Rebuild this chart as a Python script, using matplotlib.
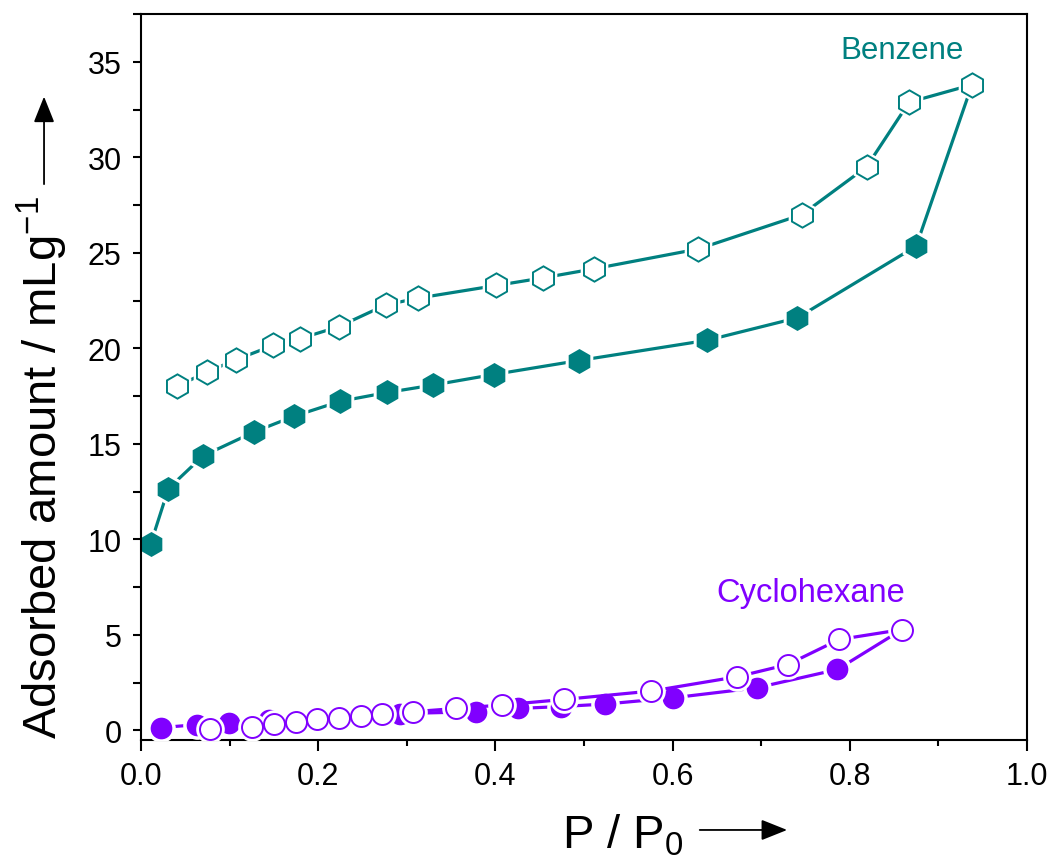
import matplotlib
matplotlib.use("Agg")
import matplotlib.pyplot as plt
from matplotlib.ticker import MultipleLocator

plt.rcParams["font.family"] = ["Liberation Sans", "DejaVu Sans"]
plt.rcParams["mathtext.fontset"] = "custom"
plt.rcParams["mathtext.rm"] = "Liberation Sans"
plt.rcParams["mathtext.it"] = "Liberation Sans:italic"

TEAL = "#008080"
VIOLET = "#8000FF"

# benzene: adsorption (filled) and desorption (open, from the top down)
benz_ads_x = [0.011, 0.031, 0.070, 0.128, 0.173, 0.225, 0.278, 0.330,
              0.398, 0.494, 0.639, 0.741, 0.875]
benz_ads_y = [9.77, 12.66, 14.37, 15.63, 16.45, 17.23, 17.69, 18.08,
              18.63, 19.36, 20.42, 21.60, 25.35]
benz_des_x = [0.938, 0.867, 0.819, 0.746, 0.629, 0.511, 0.454, 0.401,
              0.313, 0.276, 0.223, 0.179, 0.149, 0.107, 0.075, 0.041]
benz_des_y = [33.80, 32.88, 29.50, 27.00, 25.20, 24.16, 23.69, 23.29,
              22.63, 22.27, 21.13, 20.50, 20.15, 19.40, 18.77, 18.02]

# cyclohexane
cyc_ads_x = [0.023, 0.063, 0.099, 0.144, 0.195, 0.245, 0.292, 0.378,
             0.426, 0.474, 0.524, 0.601, 0.695, 0.786]
cyc_ads_y = [0.15, 0.30, 0.38, 0.55, 0.62, 0.72, 0.88, 0.98,
             1.15, 1.25, 1.38, 1.71, 2.23, 3.19]
cyc_des_x = [0.859, 0.788, 0.730, 0.673, 0.576, 0.477, 0.407, 0.356,
             0.307, 0.272, 0.248, 0.223, 0.199, 0.175, 0.150, 0.125, 0.078]
cyc_des_y = [5.28, 4.76, 3.45, 2.81, 2.06, 1.62, 1.33, 1.15,
             0.98, 0.84, 0.75, 0.66, 0.58, 0.44, 0.35, 0.18, 0.08]

fig = plt.figure(figsize=(10.56, 8.62), dpi=100)
ax = fig.add_axes([0.1335, 0.1404, 0.8390, 0.8422])


def branch(x, y, color, marker, ms, filled, z, close_x=None, close_y=None):
    lx, ly = list(x), list(y)
    if close_x is not None:
        lx.append(close_x)
        ly.append(close_y)
    ax.plot(lx, ly, color=color, lw=2.3, zorder=z, solid_capstyle="butt")
    # white halo so the line stops short of each symbol
    ax.plot(x, y, ls="none", marker=marker, ms=ms + 5, mfc="white",
            mec="white", mew=0, zorder=z + 0.1)
    if filled:
        ax.plot(x, y, ls="none", marker=marker, ms=ms, mfc=color,
                mec=color, mew=0, zorder=z + 0.2)
    else:
        ax.plot(x, y, ls="none", marker=marker, ms=ms - 0.5, mfc="white",
                mec=color, mew=1.4, zorder=z + 0.2)


branch(benz_ads_x, benz_ads_y, TEAL, "h", 18, True, 2,
       benz_des_x[0], benz_des_y[0])
branch(benz_des_x, benz_des_y, TEAL, "h", 18, False, 3)
branch(cyc_ads_x, cyc_ads_y, VIOLET, "o", 15.6, True, 4,
       cyc_des_x[0], cyc_des_y[0])
branch(cyc_des_x, cyc_des_y, VIOLET, "o", 15.6, False, 5)

ax.text(0.859, 35.6, "Benzene", color=TEAL, fontsize=22.5,
        ha="center", va="center")
ax.text(0.756, 6.8, "Cyclohexane", color=VIOLET, fontsize=23.5,
        ha="center", va="baseline")

ax.set_xlim(0, 1.0)
ax.set_ylim(-0.5, 37.5)
ax.xaxis.set_major_locator(MultipleLocator(0.2))
ax.xaxis.set_minor_locator(MultipleLocator(0.1))
ax.yaxis.set_major_locator(MultipleLocator(5))
ax.yaxis.set_minor_locator(MultipleLocator(2.5))
ax.set_xticks(ax.get_xticks())
ax.set_xticklabels([f"{v:.1f}" for v in ax.get_xticks()])

ax.tick_params(axis="x", which="major", direction="out", length=8,
               width=1.5, labelsize=22, pad=7)
ax.tick_params(axis="x", which="minor", direction="out", length=4.5,
               width=1.5)
ax.tick_params(axis="y", which="both", direction="out", length=6,
               width=1.5, labelsize=22, pad=8)
ax.set_xlim(0, 1.0)
for sp in ax.spines.values():
    sp.set_linewidth(1.5)

fig.text(0.040, 0.458, r"Adsorbed amount / mLg$^{\mathrm{-1}}$",
         rotation=90, fontsize=34, ha="center", va="center")
fig.text(0.590, 0.0162, r"P / P$_{\mathrm{0}}$", fontsize=34,
         ha="center", va="baseline")

fig.patches.append(matplotlib.patches.FancyArrowPatch(
    (0.0417, 0.782), (0.0417, 0.890), transform=fig.transFigure,
    arrowstyle="-|>,head_length=10,head_width=4", mutation_scale=1.6,
    color="black", lw=1.3))
fig.patches.append(matplotlib.patches.FancyArrowPatch(
    (0.660, 0.036), (0.748, 0.036), transform=fig.transFigure,
    arrowstyle="-|>,head_length=10,head_width=4", mutation_scale=1.6,
    color="black", lw=1.3))

fig.savefig("out.png", dpi=100)
